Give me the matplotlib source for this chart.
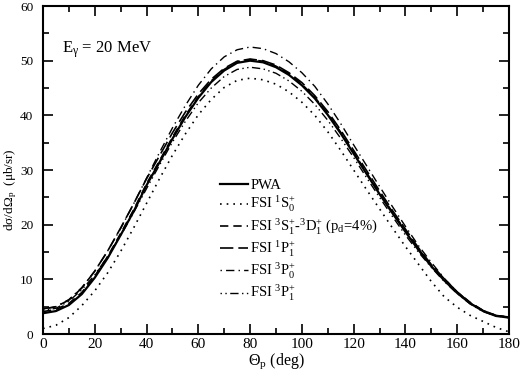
import numpy as np
import matplotlib
matplotlib.use("Agg")
import matplotlib.pyplot as plt

plt.rcParams['font.family'] = ['Liberation Serif', 'DejaVu Serif']
plt.rcParams['mathtext.fontset'] = 'custom'
plt.rcParams['mathtext.rm'] = 'Liberation Serif'
plt.rcParams['mathtext.it'] = 'Liberation Serif'
plt.rcParams['mathtext.default'] = 'rm'

# angles in deg, 5 deg steps
theta = np.arange(0, 181, 5)

pwa = [3.8, 4.2, 5.3, 7.3, 10.3, 13.9, 18.1, 22.4, 27.2, 31.4, 35.7, 39.7, 43.2, 46.1, 48.2, 49.6, 50.0,
       49.7, 48.8, 47.4, 45.5, 43.1, 40.1, 36.7, 33.0, 29.3, 25.6, 22.1, 18.7, 15.4, 12.4, 9.8, 7.5, 5.6, 4.2, 3.3, 3.0]
fsi_1s0 = [1.0, 1.6, 3.0, 5.2, 7.9, 11.2, 15.1, 19.4, 23.9, 28.4, 32.7, 36.6, 40.1, 42.9, 45.1, 46.4, 46.8,
           46.5, 45.7, 44.3, 42.4, 40.0, 37.0, 33.6, 30.0, 26.4, 22.9, 19.4, 16.0, 12.8, 9.6, 6.8, 4.9, 3.4, 2.3, 1.2, 0.4]
fsi_3s1 = [4.1, 4.5, 5.6, 7.6, 10.6, 14.2, 18.4, 22.7, 27.5, 31.7, 36.0, 40.0, 43.4, 46.3, 48.4, 49.8, 50.2,
           49.9, 49.0, 47.6, 45.7, 43.3, 40.3, 36.9, 33.2, 29.5, 25.8, 22.3, 18.9, 15.6, 12.6, 10.0, 7.7, 5.8, 4.3, 3.4, 3.1]
fsi_1p1 = [4.6, 5.0, 6.2, 8.4, 11.5, 15.2, 19.4, 23.8, 28.4, 32.6, 36.8, 40.6, 43.9, 46.6, 48.6, 49.9, 50.3,
           50.0, 49.2, 47.8, 46.0, 43.6, 40.7, 37.3, 33.6, 29.9, 26.2, 22.6, 19.2, 15.8, 12.7, 10.1, 7.7, 5.7, 4.3, 3.4, 3.1]
fsi_3p0 = [4.5, 5.0, 6.3, 8.5, 11.5, 15.2, 19.3, 23.8, 28.5, 33.2, 37.7, 41.8, 45.5, 48.5, 50.7, 52.0, 52.5,
           52.2, 51.3, 49.8, 47.8, 45.3, 42.1, 38.5, 34.6, 30.8, 27.0, 23.3, 19.7, 16.2, 13.1, 10.2, 7.7, 5.7, 4.2, 3.3, 3.0]
fsi_3p1 = [4.3, 4.7, 6.0, 8.1, 10.8, 14.2, 18.0, 22.2, 26.6, 30.9, 35.1, 38.9, 42.3, 45.0, 47.1, 48.4, 48.8,
           48.5, 47.7, 46.3, 44.4, 42.0, 39.1, 35.8, 32.3, 28.6, 25.0, 21.5, 18.1, 15.0, 12.2, 9.6, 7.4, 5.5, 4.1, 3.3, 3.0]

labels = ['PWA',
          r'FSI $^{1}$S$_{0}^{+}$',
          r'FSI $^{3}$S$_{1}^{+}$-$^{3}$D$_{1}^{+}$ (p$_{d}$=4%)',
          r'FSI $^{1}$P$_{1}^{+}$',
          r'FSI $^{3}$P$_{0}^{+}$',
          r'FSI $^{3}$P$_{1}^{+}$']

fig = plt.figure(figsize=(5.21, 3.71), dpi=100)
ax = fig.add_axes([0.0825, 0.0997, 0.8944, 0.8841])

ax.plot(theta, pwa, 'k-', lw=1.6, label=labels[0])
ax.plot(theta, fsi_1s0, 'k', ls=(0, (1, 3)), lw=1.2, label=labels[1])
ax.plot(theta, fsi_3s1, 'k', ls=(0, (5, 3)), lw=1.2, label=labels[2])
ax.plot(theta, fsi_1p1, 'k', ls=(0, (8, 3)), lw=1.2, label=labels[3])
ax.plot(theta, fsi_3p0, 'k', ls=(0, (1, 3, 6, 3)), lw=1.0, label=labels[4])
ax.plot(theta, fsi_3p1, 'k', ls=(0, (1, 2.5, 1, 2.5, 6, 2.5)), lw=1.0, label=labels[5])

ax.set_xlim(0, 180)
ax.set_ylim(0, 60)
ax.set_xticks(np.arange(0, 181, 20))
ax.set_xticks(np.arange(0, 181, 10), minor=True)
ax.set_yticks(np.arange(0, 61, 10))
ax.set_yticks(np.arange(0, 61, 5), minor=True)
ax.tick_params(which='both', direction='in', top=True, right=True, width=1.2)
ax.tick_params(which='major', length=7)
ax.tick_params(which='minor', length=4)
ax.tick_params(axis='x', labelsize=11, pad=3)
ax.tick_params(axis='y', labelsize=9.5, pad=7)
for s in ax.spines.values():
    s.set_linewidth(1.5)

ax.set_xlabel(r'$\Theta_{p}$ (deg)', fontsize=11.5, labelpad=0)
ax.set_ylabel(r'd$\sigma$/d$\Omega_{p}$  ($\mu$b/sr)', fontsize=9.5)
ax.yaxis.set_label_coords(-0.0515, 0.44)
ax.text(0.041, 0.857, r'E$_{\gamma}$ = 20 MeV', transform=ax.transAxes, fontsize=12)

ax.legend(loc='upper left', bbox_to_anchor=(0.365, 0.495), frameon=False, fontsize=10.5,
          handlelength=1.9, handletextpad=0.15, labelspacing=0.2, borderpad=0)

fig.savefig('out.png', dpi=100)
